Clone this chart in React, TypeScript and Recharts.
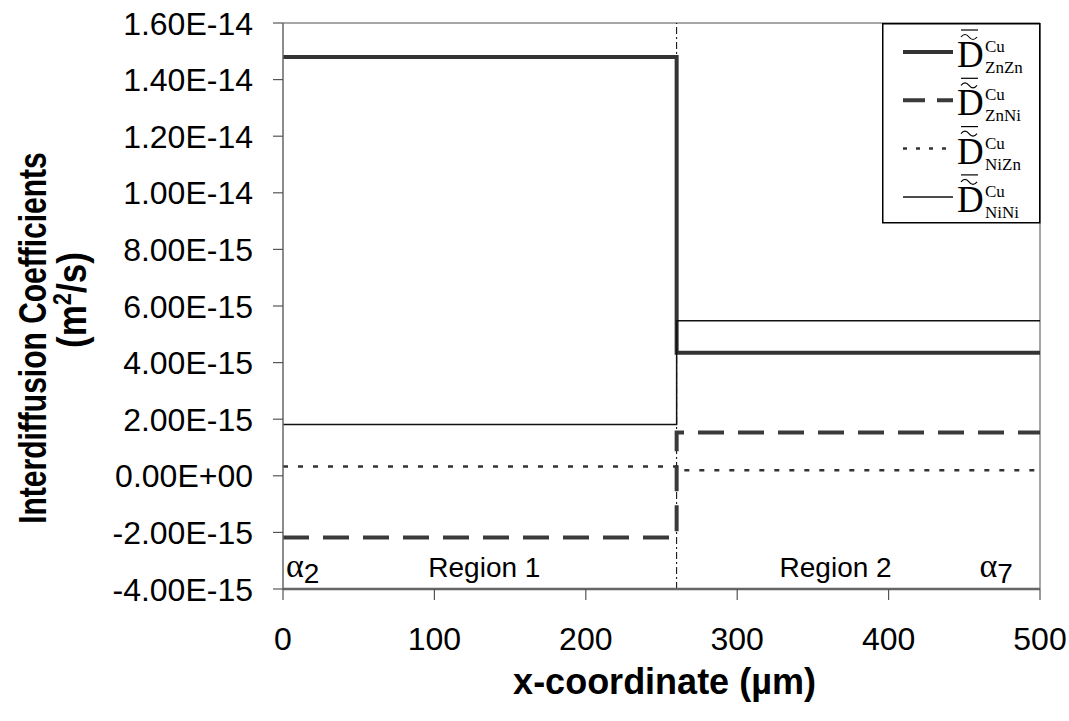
import React from 'react';
import {
  LineChart,
  Line,
  XAxis,
  YAxis,
  ReferenceLine,
  ReferenceDot,
  Legend,
} from 'recharts';

// positions along the diffusion couple (µm)
const X_VALUES = [0, 260, 500];
const BOUNDARY = 260;

// interdiffusion coefficients, m^2/s (region 1 value, region 2 value, end)
const D_ZNZN = [1.48e-14, 4.35e-15, 4.35e-15];
const D_ZNNI = [-2.18e-15, 1.53e-15, 1.53e-15];
const D_NIZN = [3.3e-16, 2.0e-16, 2.0e-16];
const D_NINI = [1.81e-15, 5.48e-15, 5.48e-15];

const X_TICKS = [0, 100, 200, 300, 400, 500];
const Y_TICKS = [-4e-15, -2e-15, 0, 2e-15, 4e-15, 6e-15, 8e-15, 1e-14, 1.2e-14, 1.4e-14, 1.6e-14];

// phase / region annotations
const REGION_X = [2, 133, 365, 460];
const REGION_TEXT = ['α|2', 'Region 1', 'Region 2', 'α|7'];
const REGION_Y = -3.25e-15;

const data = X_VALUES.map((x, i) => ({
  x,
  znzn: D_ZNZN[i],
  znni: D_ZNNI[i],
  nizn: D_NIZN[i],
  nini: D_NINI[i],
}));

const SERIES = [
  { key: 'znzn', sub: 'ZnZn', width: 4, dash: undefined, legendDash: undefined, color: '#333' },
  { key: 'znni', sub: 'ZnNi', width: 4, dash: '26 14', legendDash: '22 12', color: '#3a3a3a' },
  { key: 'nizn', sub: 'NiZn', width: 2.5, dash: '5 10', legendDash: '4 9', color: '#333' },
  { key: 'nini', sub: 'NiNi', width: 1.5, dash: undefined, legendDash: undefined, color: '#111' },
];

const SANS = '"Liberation Sans", Arial, sans-serif';
const SERIF = '"Liberation Serif", "Times New Roman", serif';

function sci(v: number) {
  const [m, e] = v.toExponential(2).split('e');
  const n = Number(e);
  return `${m}E${n < 0 ? '-' : '+'}${String(Math.abs(n)).padStart(2, '0')}`;
}

const YTick = ({ x, y, payload }: any) => (
  <text x={x - 20} y={y + 11.5} textAnchor="end" fontSize={32} fontFamily={SANS} fill="#000">
    {sci(payload.value)}
  </text>
);

const XTick = ({ x, y, payload }: any) => (
  <text x={x} y={y + 50} textAnchor="middle" fontSize={32} fontFamily={SANS} fill="#000">
    {payload.value}
  </text>
);

// two-line rotated title, glyphs widened a little to match the heavy Arial look
const YTitle = () => (
  <g fontFamily={SANS} fontWeight="bold" fill="#000">
    <text transform="translate(46,338) scale(1.3,1) rotate(-90)" textAnchor="middle" fontSize={30}>
      Interdiffusion Coefficients
    </text>
    <text transform="translate(86,300) scale(1.15,1) rotate(-90)" textAnchor="middle" fontSize={35}>
      (m<tspan dy={-13} fontSize={22}>2</tspan>
      <tspan dy={13}>/s)</tspan>
    </text>
  </g>
);

const XTitle = ({ viewBox }: any) => (
  <text
    x={viewBox.x + viewBox.width / 2 + 3}
    y={694}
    textAnchor="middle"
    fontFamily={SANS}
    fontWeight="bold"
    fontSize={36}
    fill="#000"
  >
    x-coordinate (µm)
  </text>
);

const RegionLabel = (text: string) => ({ viewBox }: any) => {
  const [main, sub] = text.split('|');
  const y = viewBox.y + 9;
  if (sub) {
    return (
      <text x={viewBox.x} y={y} fill="#000">
        <tspan fontFamily={SERIF} fontSize={34}>{main}</tspan>
        <tspan fontFamily={SANS} fontSize={28} dy={6}>{sub}</tspan>
      </text>
    );
  }
  return (
    <text x={viewBox.x} y={y} textAnchor="middle" fontFamily={SANS} fontSize={28} fill="#000">
      {main}
    </text>
  );
};

const LegendBox = () => {
  const pitch = 48.3;
  return (
    <svg width={160} height={202} style={{ display: 'block' }}>
      <rect x={0.75} y={0.75} width={157} height={199} fill="#fff" stroke="#000" strokeWidth={1.5} />
      {SERIES.map((s, i) => {
        const oy = i * pitch;
        return (
          <g key={s.key}>
            <line
              x1={21}
              x2={71}
              y1={29 + oy}
              y2={29 + oy}
              stroke={s.color}
              strokeWidth={s.width}
              strokeDasharray={s.legendDash}
            />
            <text x={75} y={44 + oy} fontFamily={SERIF} fontSize={37} fill="#000">D</text>
            <path
              d={`M79,${14 + oy} q4,-5 8,0 t8,0`}
              fill="none"
              stroke="#000"
              strokeWidth={1.2}
            />
            <line x1={79} x2={96} y1={7 + oy} y2={7 + oy} stroke="#000" strokeWidth={1.2} />
            <text x={103} y={29 + oy} fontFamily={SERIF} fontSize={17} fill="#000">Cu</text>
            <text x={103} y={50 + oy} fontFamily={SERIF} fontSize={17} fill="#000">{s.sub}</text>
          </g>
        );
      })}
    </svg>
  );
};

export default function App() {
  return (
    <div style={{ position: 'absolute', left: 0, top: 0, width: 1069, height: 721, background: '#fff' }}>
      <LineChart width={1069} height={721} data={data} margin={{ top: 23, right: 29, bottom: 0, left: 0 }}>
        <XAxis
          dataKey="x"
          type="number"
          domain={[0, 500]}
          ticks={X_TICKS}
          interval={0}
          height={132}
          tickSize={11}
          tickMargin={0}
          tick={<XTick />}
          axisLine={{ stroke: '#666', strokeWidth: 2.5 }}
          tickLine={{ stroke: '#555', strokeWidth: 1.2 }}
          label={<XTitle />}
        />
        <YAxis
          type="number"
          domain={[-4e-15, 1.6e-14]}
          ticks={Y_TICKS}
          interval={0}
          width={283}
          tickSize={10}
          tickMargin={0}
          tick={<YTick />}
          axisLine={{ stroke: '#666', strokeWidth: 1.5 }}
          tickLine={{ stroke: '#555', strokeWidth: 1.2 }}
          label={<YTitle />}
        />
        <ReferenceLine y={1.6e-14} stroke="#888" strokeWidth={1.5} />
        <ReferenceLine x={500} stroke="#888" strokeWidth={1.5} />
        <ReferenceLine x={BOUNDARY} stroke="#000" strokeWidth={1} strokeDasharray="7 3 2 3" />
        {REGION_X.map((x, i) => (
          <ReferenceDot
            key={REGION_TEXT[i]}
            x={x}
            y={REGION_Y}
            r={0}
            fill="none"
            stroke="none"
            label={{ content: RegionLabel(REGION_TEXT[i]) }}
          />
        ))}
        {SERIES.map((s) => (
          <Line
            key={s.key}
            dataKey={s.key}
            type="stepAfter"
            stroke={s.color}
            strokeWidth={s.width}
            strokeDasharray={s.dash}
            strokeLinecap="butt"
            dot={false}
            activeDot={false}
            isAnimationActive={false}
          />
        ))}
        <Legend
          layout="horizontal"
          verticalAlign="middle"
          align="center"
          content={<LegendBox />}
          wrapperStyle={{ position: 'absolute', left: 882, top: 23, width: 160, height: 202 }}
        />
      </LineChart>
    </div>
  );
}
